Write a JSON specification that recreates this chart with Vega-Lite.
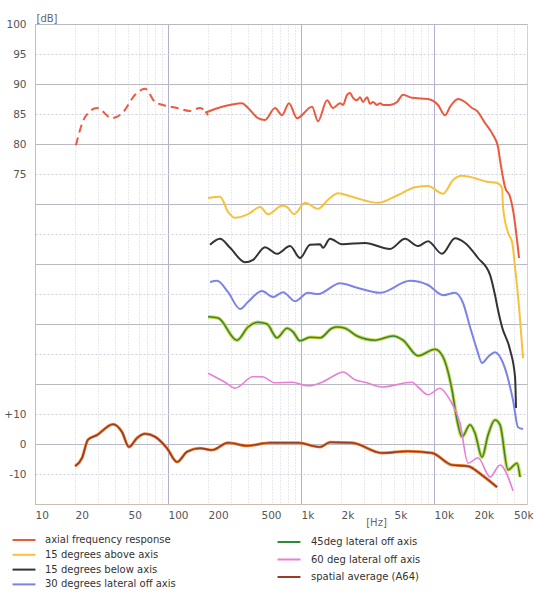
{
"$schema": "https://vega.github.io/schema/vega-lite/v6.json",
"width": 492, "height": 480,
"autosize": "none",
"padding": {"left": 35, "top": 24, "right": 8, "bottom": 88},
"background": "white",
"config": {"view": {"stroke": "#d2d2d8", "strokeWidth": 1}, "font": "DejaVu Sans"},
"datasets": {
"curves": [
{"s":"ext","f":20.3,"v":79.8},{"s":"ext","f":23.8,"v":84.5},{"s":"ext","f":29.3,"v":86},{"s":"ext","f":37.9,"v":84.3},{"s":"ext","f":45.9,"v":85.3},{"s":"ext","f":56.5,"v":88.2},{"s":"ext","f":67.2,"v":89.2},{"s":"ext","f":79.9,"v":87},{"s":"ext","f":91.7,"v":86.5},{"s":"ext","f":117,"v":86},{"s":"ext","f":146,"v":85.5},{"s":"ext","f":174,"v":86},{"s":"ext","f":200,"v":84.8},
{"s":"axial frequency response","f":190,"v":85.2},{"s":"axial frequency response","f":255,"v":86.2},{"s":"axial frequency response","f":360,"v":86.8},{"s":"axial frequency response","f":400,"v":86},{"s":"axial frequency response","f":475,"v":84.3},{"s":"axial frequency response","f":536,"v":84},{"s":"axial frequency response","f":638,"v":86},{"s":"axial frequency response","f":720,"v":84.8},{"s":"axial frequency response","f":812,"v":86.8},{"s":"axial frequency response","f":933,"v":84.3},{"s":"axial frequency response","f":1210,"v":86.2},{"s":"axial frequency response","f":1342,"v":83.8},{"s":"axial frequency response","f":1569,"v":87.3},{"s":"axial frequency response","f":1740,"v":86},{"s":"axial frequency response","f":1965,"v":86.8},{"s":"axial frequency response","f":2069,"v":86.5},{"s":"axial frequency response","f":2218,"v":88.2},{"s":"axial frequency response","f":2336,"v":88.5},{"s":"axial frequency response","f":2460,"v":87.7},{"s":"axial frequency response","f":2637,"v":87.3},{"s":"axial frequency response","f":2777,"v":87.8},{"s":"axial frequency response","f":2926,"v":87},{"s":"axial frequency response","f":3135,"v":87.8},{"s":"axial frequency response","f":3303,"v":86.7},{"s":"axial frequency response","f":3479,"v":87},{"s":"axial frequency response","f":3728,"v":86.5},{"s":"axial frequency response","f":3926,"v":86.8},{"s":"axial frequency response","f":4136,"v":86.5},{"s":"axial frequency response","f":4669,"v":86.5},{"s":"axial frequency response","f":5271,"v":87},{"s":"axial frequency response","f":5848,"v":88.2},{"s":"axial frequency response","f":6833,"v":87.7},{"s":"axial frequency response","f":9015,"v":87.5},{"s":"axial frequency response","f":10718,"v":86.5},{"s":"axial frequency response","f":12097,"v":84.8},{"s":"axial frequency response","f":13194,"v":86.2},{"s":"axial frequency response","f":15155,"v":87.5},{"s":"axial frequency response","f":17104,"v":87},{"s":"axial frequency response","f":19306,"v":86},{"s":"axial frequency response","f":21052,"v":85.5},{"s":"axial frequency response","f":24179,"v":83.5},{"s":"axial frequency response","f":27776,"v":81.5},{"s":"axial frequency response","f":30287,"v":79.5},{"s":"axial frequency response","f":31351,"v":77.3},{"s":"axial frequency response","f":34185,"v":72.8},{"s":"axial frequency response","f":37275,"v":71.2},{"s":"axial frequency response","f":39260,"v":69},{"s":"axial frequency response","f":43570,"v":61},
{"s":"15 degrees above axis","f":200,"v":71},{"s":"15 degrees above axis","f":246,"v":71.2},{"s":"15 degrees above axis","f":283,"v":68.7},{"s":"15 degrees above axis","f":319,"v":67.7},{"s":"15 degrees above axis","f":400,"v":68.3},{"s":"15 degrees above axis","f":492,"v":69.5},{"s":"15 degrees above axis","f":565,"v":68.3},{"s":"15 degrees above axis","f":720,"v":69.7},{"s":"15 degrees above axis","f":785,"v":69.5},{"s":"15 degrees above axis","f":886,"v":68.3},{"s":"15 degrees above axis","f":1072,"v":70.2},{"s":"15 degrees above axis","f":1342,"v":69.2},{"s":"15 degrees above axis","f":1596,"v":70.7},{"s":"15 degrees above axis","f":1898,"v":71.8},{"s":"15 degrees above axis","f":2418,"v":71.2},{"s":"15 degrees above axis","f":3793,"v":70.2},{"s":"15 degrees above axis","f":5362,"v":71.5},{"s":"15 degrees above axis","f":7196,"v":72.8},{"s":"15 degrees above axis","f":9015,"v":73},{"s":"15 degrees above axis","f":11687,"v":71.7},{"s":"15 degrees above axis","f":13895,"v":74},{"s":"15 degrees above axis","f":16238,"v":74.7},{"s":"15 degrees above axis","f":20337,"v":74.3},{"s":"15 degrees above axis","f":25029,"v":73.7},{"s":"15 degrees above axis","f":29770,"v":73.5},{"s":"15 degrees above axis","f":32456,"v":72.7},{"s":"15 degrees above axis","f":33022,"v":69.5},{"s":"15 degrees above axis","f":36015,"v":65.2},{"s":"15 degrees above axis","f":38590,"v":63.7},{"s":"15 degrees above axis","f":40644,"v":59.5},{"s":"15 degrees above axis","f":43570,"v":52.8},{"s":"15 degrees above axis","f":46700,"v":44.3},
{"s":"15 degrees below axis","f":207,"v":63.2},{"s":"15 degrees below axis","f":246,"v":64.2},{"s":"15 degrees below axis","f":293,"v":62.7},{"s":"15 degrees below axis","f":379,"v":60.3},{"s":"15 degrees below axis","f":436,"v":60.7},{"s":"15 degrees below axis","f":536,"v":62.8},{"s":"15 degrees below axis","f":660,"v":61.7},{"s":"15 degrees below axis","f":827,"v":63},{"s":"15 degrees below axis","f":983,"v":61},{"s":"15 degrees below axis","f":1169,"v":63.2},{"s":"15 degrees below axis","f":1390,"v":63.3},{"s":"15 degrees below axis","f":1464,"v":62.7},{"s":"15 degrees below axis","f":1652,"v":64.2},{"s":"15 degrees below axis","f":2034,"v":63.3},{"s":"15 degrees below axis","f":3029,"v":63.5},{"s":"15 degrees below axis","f":4669,"v":62.5},{"s":"15 degrees below axis","f":6053,"v":64.2},{"s":"15 degrees below axis","f":7580,"v":63},{"s":"15 degrees below axis","f":9015,"v":63.8},{"s":"15 degrees below axis","f":11487,"v":61.7},{"s":"15 degrees below axis","f":14384,"v":64.3},{"s":"15 degrees below axis","f":17104,"v":63.5},{"s":"15 degrees below axis","f":21420,"v":61},{"s":"15 degrees below axis","f":26370,"v":58.2},{"s":"15 degrees below axis","f":28753,"v":54.8},{"s":"15 degrees below axis","f":30287,"v":52.3},{"s":"15 degrees below axis","f":32456,"v":49.5},{"s":"15 degrees below axis","f":37275,"v":45.7},{"s":"15 degrees below axis","f":40644,"v":41.2},{"s":"15 degrees below axis","f":41355,"v":36},
{"s":"30 degrees lateral off axis","f":207,"v":57},{"s":"30 degrees lateral off axis","f":234,"v":57.2},{"s":"30 degrees lateral off axis","f":283,"v":55.3},{"s":"30 degrees lateral off axis","f":348,"v":52.5},{"s":"30 degrees lateral off axis","f":400,"v":53.7},{"s":"30 degrees lateral off axis","f":509,"v":55.5},{"s":"30 degrees lateral off axis","f":616,"v":54.5},{"s":"30 degrees lateral off axis","f":732,"v":55.3},{"s":"30 degrees lateral off axis","f":902,"v":53.8},{"s":"30 degrees lateral off axis","f":1129,"v":55.2},{"s":"30 degrees lateral off axis","f":1342,"v":55},{"s":"30 degrees lateral off axis","f":1965,"v":56.8},{"s":"30 degrees lateral off axis","f":2683,"v":56},{"s":"30 degrees lateral off axis","f":3926,"v":55.2},{"s":"30 degrees lateral off axis","f":6601,"v":57.2},{"s":"30 degrees lateral off axis","f":9015,"v":56.5},{"s":"30 degrees lateral off axis","f":11687,"v":54.8},{"s":"30 degrees lateral off axis","f":14384,"v":55.2},{"s":"30 degrees lateral off axis","f":16521,"v":53.5},{"s":"30 degrees lateral off axis","f":18648,"v":49.5},{"s":"30 degrees lateral off axis","f":21052,"v":45.7},{"s":"30 degrees lateral off axis","f":22955,"v":43.5},{"s":"30 degrees lateral off axis","f":25470,"v":44.5},{"s":"30 degrees lateral off axis","f":28753,"v":45.3},{"s":"30 degrees lateral off axis","f":33022,"v":43.5},{"s":"30 degrees lateral off axis","f":39260,"v":37.3},{"s":"30 degrees lateral off axis","f":42822,"v":32.8},{"s":"30 degrees lateral off axis","f":46700,"v":32.5},
{"s":"45deg lateral off axis","f":200,"v":51.2},{"s":"45deg lateral off axis","f":238,"v":51},{"s":"45deg lateral off axis","f":330,"v":47.3},{"s":"45deg lateral off axis","f":400,"v":49.5},{"s":"45deg lateral off axis","f":475,"v":50.3},{"s":"45deg lateral off axis","f":555,"v":50},{"s":"45deg lateral off axis","f":660,"v":47.7},{"s":"45deg lateral off axis","f":785,"v":49.3},{"s":"45deg lateral off axis","f":871,"v":48.7},{"s":"45deg lateral off axis","f":983,"v":47.2},{"s":"45deg lateral off axis","f":1169,"v":47.8},{"s":"45deg lateral off axis","f":1390,"v":47.7},{"s":"45deg lateral off axis","f":1711,"v":49.3},{"s":"45deg lateral off axis","f":1865,"v":49.5},{"s":"45deg lateral off axis","f":2142,"v":49.3},{"s":"45deg lateral off axis","f":2637,"v":48},{"s":"45deg lateral off axis","f":3601,"v":47.3},{"s":"45deg lateral off axis","f":4918,"v":48},{"s":"45deg lateral off axis","f":5848,"v":47.3},{"s":"45deg lateral off axis","f":7580,"v":44.7},{"s":"45deg lateral off axis","f":10175,"v":45.8},{"s":"45deg lateral off axis","f":11687,"v":44.5},{"s":"45deg lateral off axis","f":13656,"v":39},{"s":"45deg lateral off axis","f":14890,"v":34},{"s":"45deg lateral off axis","f":16238,"v":31.2},{"s":"45deg lateral off axis","f":18648,"v":33.2},{"s":"45deg lateral off axis","f":20337,"v":31.8},{"s":"45deg lateral off axis","f":22955,"v":27.8},{"s":"45deg lateral off axis","f":25470,"v":31.5},{"s":"45deg lateral off axis","f":28753,"v":34},{"s":"45deg lateral off axis","f":31351,"v":33.2},{"s":"45deg lateral off axis","f":36015,"v":25.7},{"s":"45deg lateral off axis","f":42085,"v":26.8},{"s":"45deg lateral off axis","f":44330,"v":24.5},
{"s":"60 deg lateral off axis","f":200,"v":41.8},{"s":"60 deg lateral off axis","f":268,"v":40.3},{"s":"60 deg lateral off axis","f":319,"v":39.3},{"s":"60 deg lateral off axis","f":436,"v":41.2},{"s":"60 deg lateral off axis","f":509,"v":41.2},{"s":"60 deg lateral off axis","f":638,"v":40.2},{"s":"60 deg lateral off axis","f":856,"v":40.3},{"s":"60 deg lateral off axis","f":1129,"v":39.7},{"s":"60 deg lateral off axis","f":1439,"v":40.3},{"s":"60 deg lateral off axis","f":1711,"v":41.2},{"s":"60 deg lateral off axis","f":2069,"v":42},{"s":"60 deg lateral off axis","f":2547,"v":40.7},{"s":"60 deg lateral off axis","f":3029,"v":40.3},{"s":"60 deg lateral off axis","f":4064,"v":39.5},{"s":"60 deg lateral off axis","f":6833,"v":40.3},{"s":"60 deg lateral off axis","f":7580,"v":39.5},{"s":"60 deg lateral off axis","f":9015,"v":38.2},{"s":"60 deg lateral off axis","f":11094,"v":39.3},{"s":"60 deg lateral off axis","f":13194,"v":37.3},{"s":"60 deg lateral off axis","f":15686,"v":33.5},{"s":"60 deg lateral off axis","f":18013,"v":26.8},{"s":"60 deg lateral off axis","f":21420,"v":27.7},{"s":"60 deg lateral off axis","f":26370,"v":24.5},{"s":"60 deg lateral off axis","f":31351,"v":26.5},{"s":"60 deg lateral off axis","f":39260,"v":22.2},
{"s":"spatial average (A64)","f":20,"v":26.3},{"s":"spatial average (A64)","f":22.6,"v":27.7},{"s":"spatial average (A64)","f":25,"v":30.7},{"s":"spatial average (A64)","f":29.3,"v":31.5},{"s":"spatial average (A64)","f":38.6,"v":33.3},{"s":"spatial average (A64)","f":45.1,"v":32},{"s":"spatial average (A64)","f":50.9,"v":29.5},{"s":"spatial average (A64)","f":58.5,"v":31},{"s":"spatial average (A64)","f":67.2,"v":31.7},{"s":"spatial average (A64)","f":79.9,"v":31.2},{"s":"spatial average (A64)","f":98.3,"v":29.3},{"s":"spatial average (A64)","f":117,"v":27},{"s":"spatial average (A64)","f":139,"v":28.7},{"s":"spatial average (A64)","f":174,"v":29.3},{"s":"spatial average (A64)","f":214,"v":29},{"s":"spatial average (A64)","f":283,"v":30.2},{"s":"spatial average (A64)","f":393,"v":29.7},{"s":"spatial average (A64)","f":585,"v":30.2},{"s":"spatial average (A64)","f":949,"v":30.2},{"s":"spatial average (A64)","f":1390,"v":29.5},{"s":"spatial average (A64)","f":1652,"v":30.3},{"s":"spatial average (A64)","f":2418,"v":30.2},{"s":"spatial average (A64)","f":4064,"v":28.5},{"s":"spatial average (A64)","f":6377,"v":28.8},{"s":"spatial average (A64)","f":9660,"v":28.5},{"s":"spatial average (A64)","f":13656,"v":26.5},{"s":"spatial average (A64)","f":18013,"v":26.3},{"s":"spatial average (A64)","f":22955,"v":24.8},{"s":"spatial average (A64)","f":29770,"v":22.8}
]},
"data": {"name": "curves"},
"encoding": {
  "x": {"field": "f", "type": "quantitative",
    "scale": {"type": "log", "domain": [10, 50000], "nice": false},
    "axis": {
      "values": [10,20,30,40,50,60,70,80,90,100,200,300,400,500,600,700,800,900,1000,2000,3000,4000,5000,6000,7000,8000,9000,10000,20000,30000,40000,50000],
      "labelExpr": "indexof([10,20,50,100,200,500],datum.value)>=0 ? ''+datum.value : (indexof([1000,2000,5000,10000,20000,50000],datum.value)>=0 ? (datum.value/1000)+'k' : '')",
      "grid": true,
      "gridColor": {"condition": {"test": "indexof([10,100,1000,10000],datum.value)>=0", "value": "#b4aed0"}, "value": "#cfd2dc"},
      "gridDash": {"condition": {"test": "indexof([10,100,1000,10000],datum.value)>=0", "value": []}, "value": [1,2]},
      "gridWidth": 1,
      "ticks": false,
      "domainColor": "#c9bfae",
      "labelAlign": {"condition": {"test": "datum.value==50000", "value": "right"}, "value": "left"},
      "labelOffset": {"condition": {"test": "datum.value==50000", "value": 6}, "value": 0},
      "labelFont": "DejaVu Sans", "labelFontSize": 10.5, "labelColor": "#555555",
      "labelPadding": 6, "labelOverlap": false, "labelBound": false, "labelFlush": false,
      "title": "[Hz]", "titleX": 341, "titleY": 18, "titleAlign": "center", "titleBaseline": "middle",
      "titleFont": "DejaVu Sans", "titleFontSize": 10, "titleFontWeight": "normal", "titleColor": "#666666"
    }},
  "y": {"field": "v", "type": "quantitative",
    "scale": {"domain": [20, 100], "nice": false, "zero": false},
    "axis": {
      "values": [25,30,35,40,45,50,55,60,65,70,75,80,85,90,95,100],
      "labelExpr": "datum.value>=75 ? ''+datum.value : (datum.value==35 ? '+10' : (datum.value==30 ? '0' : (datum.value==25 ? '-10' : '')))",
      "grid": true,
      "gridColor": {"condition": {"test": "datum.value % 10 == 0", "value": "#b9b9c4"}, "value": "#ccd0e0"},
      "gridDash": {"condition": {"test": "datum.value % 10 == 0", "value": []}, "value": [2,2]},
      "ticks": false,
      "domainColor": "#c9bfae",
      "labelFont": "DejaVu Sans", "labelFontSize": 10.5, "labelColor": "#555555",
      "labelPadding": 9, "labelOverlap": false, "labelBound": false, "labelFlush": false,
      "title": "[dB]", "titleAngle": 0, "titleX": 1, "titleY": -3, "titleAlign": "left", "titleBaseline": "alphabetic",
      "titleFont": "DejaVu Sans", "titleFontSize": 10, "titleFontWeight": "normal", "titleColor": "#666666"
    }}
},
"layer": [
  {"transform": [{"filter": "datum.s=='ext'"}],
   "mark": {"type": "line", "color": "#ec5a40", "strokeWidth": 2, "strokeDash": [8,5], "interpolate": "monotone"}},
  {"transform": [{"filter": "datum.s=='45deg lateral off axis'"}],
   "mark": {"type": "line", "color": "#d8d64a", "strokeWidth": 3.6, "interpolate": "monotone"}},
  {"transform": [{"filter": "datum.s=='spatial average (A64)'"}],
   "mark": {"type": "line", "color": "#f2883a", "strokeWidth": 3, "interpolate": "monotone"}},
  {"transform": [{"filter": "indexof(['45deg lateral off axis','60 deg lateral off axis','spatial average (A64)'], datum.s)>=0"}],
   "mark": {"type": "line", "strokeWidth": 1.6, "interpolate": "monotone"},
   "encoding": {"color": {"field": "s", "type": "nominal",
     "scale": {"domain": ["45deg lateral off axis","60 deg lateral off axis","spatial average (A64)"], "range": ["#2f8a3c","#e87fd6","#9a3b24"]},
     "legend": {"title": null, "orient": "none", "direction": "vertical", "legendX": 249, "legendY": 513,
       "symbolType": "M-5,0H5", "symbolSize": 21, "symbolStrokeWidth": 2, "labelOffset": 17,
       "labelFont": "DejaVu Sans", "labelFontSize": 10, "labelColor": "#333333", "rowPadding": 7.5, "padding": 0, "labelLimit": 300}}}},
  {"transform": [{"filter": "indexof(['axial frequency response','15 degrees above axis','15 degrees below axis','30 degrees lateral off axis'], datum.s)>=0"}],
   "mark": {"type": "line", "strokeWidth": 2, "interpolate": "monotone"},
   "encoding": {"color": {"field": "s", "type": "nominal",
     "scale": {"domain": ["axial frequency response","15 degrees above axis","15 degrees below axis","30 degrees lateral off axis"], "range": ["#ec5a3e","#f6c23c","#333333","#7b84e6"]},
     "legend": {"title": null, "orient": "none", "direction": "vertical", "legendX": -16, "legendY": 511,
       "symbolType": "M-5,0H5", "symbolSize": 21, "symbolStrokeWidth": 2, "labelOffset": 16,
       "labelFont": "DejaVu Sans", "labelFontSize": 10, "labelColor": "#333333", "rowPadding": 4.8, "padding": 0, "labelLimit": 300}}}}
],
"resolve": {"scale": {"color": "independent"}}
}
